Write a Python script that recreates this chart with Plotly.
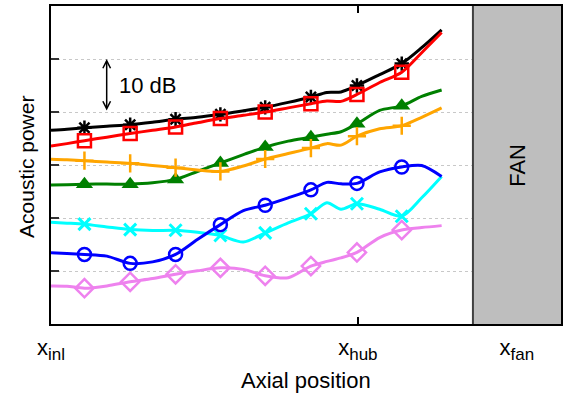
import plotly.graph_objects as go

# Axial positions (x_inl = 0, x_hub = 1)
x_grid = [0.0, 0.052, 0.109, 0.182, 0.258, 0.331, 0.406, 0.477, 0.552, 0.627,
          0.698, 0.773, 0.847, 0.899, 0.945, 0.997, 1.071, 1.143, 1.208, 1.273]
marker_idx = [2, 4, 6, 8, 10, 12, 15, 17]

# Acoustic power levels (dB, relative)
black = [36.56, 36.75, 37.03, 37.31, 37.59, 38.06, 38.63, 39.0, 39.56, 40.22,
         40.88, 41.81, 42.84, 43.69, 43.78, 45.0, 47.06, 49.13, 52.13, 55.5]
red = [33.56, 34.03, 34.59, 35.25, 35.94, 36.56, 37.18, 37.97, 38.76, 39.38,
       39.99, 40.78, 41.57, 42.09, 42.0, 43.31, 45.56, 47.49, 51.19, 54.99]
green = [26.25, 26.29, 26.38, 26.4, 26.38, 26.63, 27.28, 28.78, 30.38, 31.97,
         33.38, 34.5, 35.25, 35.81, 36.28, 37.78, 40.31, 41.16, 42.94, 44.16]
orange = [31.07, 30.98, 30.81, 30.56, 30.32, 29.91, 29.49, 29.06, 28.78, 29.81,
          31.13, 32.16, 33.19, 34.03, 33.75, 35.44, 36.84, 37.41, 39.0, 40.78]
cyan = [19.18, 19.03, 18.84, 18.32, 17.81, 17.63, 17.68, 17.31, 16.69, 15.47,
        17.19, 19.07, 20.81, 22.88, 21.66, 22.69, 21.66, 20.34, 23.81, 27.84]
blue = [13.44, 13.31, 13.13, 12.81, 11.44, 11.72, 13.13, 15.94, 18.75, 21.38,
        22.41, 23.81, 25.31, 26.72, 26.44, 26.53, 28.69, 29.63, 29.91, 27.84]
violet = [7.18, 7.13, 6.75, 7.18, 7.97, 8.57, 9.38, 10.03, 10.59, 10.31,
          9.09, 8.72, 10.93, 11.81, 12.47, 13.5, 16.31, 17.72, 18.19, 18.56]

x_tick_vals = [0.0, 1.0, 1.518]
sub = "<sub><span style='font-size:17px'>{}</span></sub>"
x_tick_text = ["x" + sub.format("inl"), "x" + sub.format("hub"), "x" + sub.format("fan")]
fan_start = 1.375
x_max = 1.662
y_ticks = [10, 20, 30, 40, 50]

series = [
    (black, "black", "asterisk-open", 12, 2.5),
    (red, "#ff0000", "square-open", 13, 2.5),
    (green, "#008000", "triangle-up", 15, 0),
    (orange, "#ffa500", "cross-thin-open", 13, 2.5),
    (cyan, "#00ffff", "x-thin-open", 12, 3),
    (blue, "#0000ff", "circle-open", 13, 2.5),
    (violet, "#ee82ee", "diamond-open", 14, 2.5),
]

fig = go.Figure()
for ys, col, sym, size, lw in series:
    fig.add_trace(go.Scatter(x=x_grid, y=ys, mode="lines",
                             line=dict(color=col, width=3, shape="spline", smoothing=0.8),
                             hoverinfo="skip", showlegend=False))
    fig.add_trace(go.Scatter(x=[x_grid[i] for i in marker_idx], y=[ys[i] for i in marker_idx],
                             mode="markers",
                             marker=dict(symbol=sym, size=size, color=col,
                                         line=dict(color=col, width=lw)),
                             hoverinfo="skip", showlegend=False))

font = "Liberation Sans, Arial, sans-serif"
fig.update_layout(
    width=573, height=395,
    margin=dict(l=51, r=12, t=6, b=71),
    paper_bgcolor="white", plot_bgcolor="white",
    font=dict(family=font, size=22, color="black"),
    xaxis=dict(range=[0, x_max], tickvals=x_tick_vals, ticktext=x_tick_text,
               ticks="inside", ticklen=7, tickwidth=1.5, tickcolor="black",
               showgrid=False, zeroline=False, showline=True, linewidth=2,
               linecolor="black", mirror="ticks", ticklabelstandoff=3,
               automargin=False, tickfont=dict(size=22)),
    yaxis=dict(range=[0, 60], tickvals=y_ticks, showticklabels=False,
               ticks="inside", ticklen=8, tickwidth=1.5, tickcolor="#333333",
               showgrid=True, gridcolor="#c8c8c8", griddash="dot", gridwidth=1,
               zeroline=False, showline=True, linewidth=2, linecolor="black",
               mirror=True, automargin=False),
    shapes=[
        dict(type="rect", xref="x", yref="y", x0=fan_start, x1=x_max, y0=0, y1=60,
             fillcolor="#bebebe", line=dict(width=0), layer="above"),
        dict(type="line", xref="x", yref="y", x0=fan_start, x1=fan_start, y0=0, y1=60,
             line=dict(color="#404040", width=2), layer="above"),
    ],
    annotations=[
        dict(x=0.5, y=-0.179, xref="paper", yref="paper", text="Axial position",
             showarrow=False, xanchor="center", yanchor="middle", font=dict(size=22)),
        dict(x=-0.047, y=0.494, xref="paper", yref="paper", text="Acoustic power",
             showarrow=False, textangle=-90, xanchor="center", yanchor="middle",
             font=dict(size=21)),
        dict(x=1.518, y=30, xref="x", yref="y", text="FAN", showarrow=False,
             textangle=-90, font=dict(size=22)),
        dict(x=0.215, y=45, xref="x", yref="y", text="10 dB", showarrow=False,
             xanchor="left", font=dict(size=22)),
        dict(x=0.1815, y=50, ax=0.1815, ay=40, xref="x", yref="y", axref="x", ayref="y",
             text="", showarrow=True, arrowhead=5, startarrowhead=5,
             arrowside="end+start", arrowwidth=1.5, arrowsize=1, startarrowsize=1,
             arrowcolor="black"),
    ],
)

fig.write_html("out.html", config={"displayModeBar": False},
               post_script="document.body.style.margin='0';document.body.style.padding='0';")
